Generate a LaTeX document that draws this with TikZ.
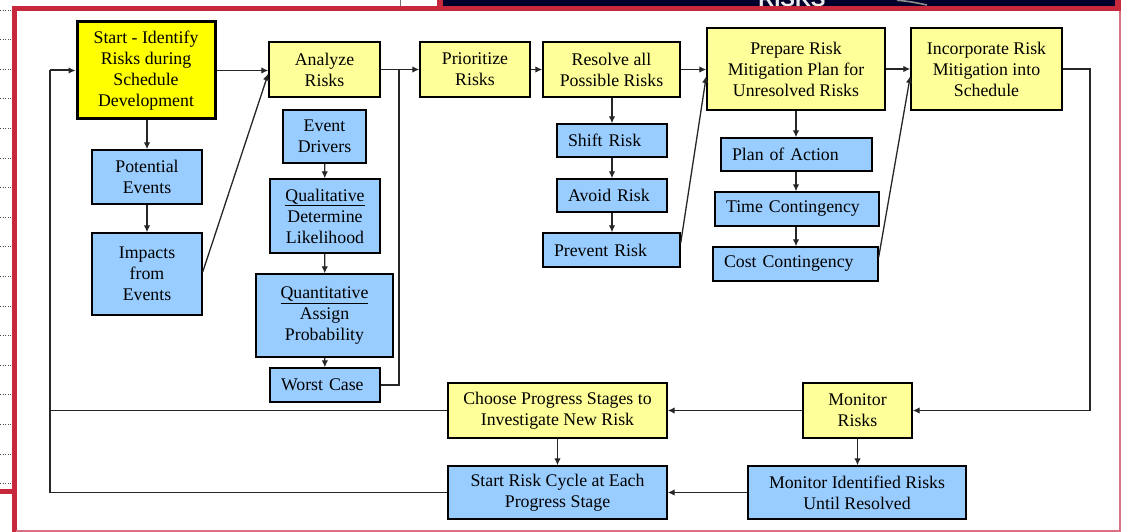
\documentclass[tikz,border=0pt]{standalone}
\usepackage{fontspec}
\setmainfont{Liberation Serif}
\newfontfamily\bannerfont{Liberation Sans}
\usetikzlibrary{arrows.meta}
\definecolor{ylw}{HTML}{FFFF99}
\definecolor{ybright}{HTML}{FFFF00}
\definecolor{blu}{HTML}{99CCFF}
\definecolor{framered}{HTML}{C8283C}
\definecolor{framepink}{HTML}{D9707F}
\definecolor{navyband}{HTML}{00002A}
\tikzset{
  bx/.style={draw=black, line width=1.4pt, align=center, inner sep=0pt, text=black,
             font=\fontsize{17.8}{21}\selectfont},
  yb/.style={bx, fill=ylw},
  bb/.style={bx, fill=blu},
  lft/.style={align=left, inner xsep=11pt, text width=#1},
  arr/.style={draw=black!85, line width=1.3pt, -{Latex[length=7pt,width=6.5pt]}},
  ln/.style={draw=black!85, line width=1.3pt},
}
\begin{document}
\begin{tikzpicture}[x=1pt,y=-1pt]
\useasboundingbox (0,0) rectangle (1121,532);
% ---------- slide frame ----------
\fill[white] (0,0) rectangle (1121,532);
\foreach \yy in {10,39.6,...,484} \draw[black!70, line width=0.9pt, dash pattern=on 1.2pt off 1.4pt] (0,\yy) -- (11,\yy);
\draw[black!55, line width=1pt] (400,0) -- (400,6);
\fill[navyband] (443,0) rectangle (1115,5.8);
\begin{scope}
  \clip (443,0) rectangle (1115,5.8);
  \node[anchor=base, inner sep=0pt, text=black!8, font=\bannerfont\bfseries\fontsize{22}{22}\selectfont] (banner) at (792,7) {RISKS};
  \draw[black!45, line width=1.6pt] (897,0.3) .. controls (910,1.5) .. (927,5);
\end{scope}
\fill[framered] (437,0) rectangle (443,6);
\fill[framered] (1115,0) rectangle (1121,11);
\fill[framered] (12,5.8) rectangle (1121,11.2);
\fill[framered] (12,5.8) rectangle (16.5,532);
\fill[framered] (0,489) rectangle (12,494);
\draw[framepink, line width=1.6pt] (1120,11) -- (1120,532);
\draw[framepink, line width=1.6pt] (16,531) -- (1121,531);

% ---------- nodes ----------
\node[bx, fill=ybright, line width=3pt, minimum width=138pt, minimum height=97pt] (start) at (146,70.5)
  {Start - Identify\\Risks during\\Schedule\\Development};
\node[yb, minimum width=111pt, minimum height=55pt] (analyze) at (324.5,69.5) {Analyze\\Risks};
\node[yb, minimum width=110pt, minimum height=55pt] (prior) at (475,69.5) {Prioritize\\Risks};
\node[yb, minimum width=137pt, minimum height=55pt] (resolve) at (611.5,69.5) {Resolve all\\Possible Risks};
\node[yb, minimum width=178pt, minimum height=82pt] (prepare) at (796,69) {Prepare Risk\\Mitigation Plan for\\Unresolved Risks};
\node[yb, minimum width=151pt, minimum height=82pt] (incorp) at (986.5,69) {Incorporate Risk\\Mitigation into\\Schedule};

\node[bb, minimum width=110pt, minimum height=54pt] (potential) at (147,177) {Potential\\Events};
\node[bb, minimum width=110pt, minimum height=82pt] (impacts) at (147,274) {Impacts\\from\\Events};

\node[bb, minimum width=83pt, minimum height=53pt] (drivers) at (324.5,136.5) {Event\\Drivers};
\node[bb, minimum width=110pt, minimum height=74pt] (qual) at (325,216) {\underline{Qualitative}\\Determine\\Likelihood};
\node[bb, minimum width=137pt, minimum height=83pt] (quant) at (324.5,315.5) {\underline{Quantitative}\\Assign\\Probability};
\node[bb, lft=88pt, minimum height=34pt] (worst) at (325,385) {Worst Case};

\node[bb, lft=88pt, minimum height=33pt] (shift) at (612,140.5) {Shift Risk};
\node[bb, lft=88pt, minimum height=33pt] (avoid) at (612,195.5) {Avoid Risk};
\node[bb, lft=115pt, minimum height=34pt] (prevent) at (611.5,250) {Prevent Risk};

\node[bb, lft=129pt, minimum height=33pt] (plan) at (796.5,154.5) {Plan of Action};
\node[bb, lft=142pt, minimum height=34pt] (time) at (797,209) {Time Contingency};
\node[bb, lft=143pt, minimum height=34pt] (cost) at (795.5,264) {Cost Contingency};

\node[yb, minimum width=219pt, minimum height=55pt] (choose) at (557.5,410.5) {Choose Progress Stages to\\Investigate New Risk};
\node[bb, minimum width=219pt, minimum height=53pt] (cycle) at (557.5,492.5) {Start Risk Cycle at Each\\Progress Stage};
\node[yb, minimum width=109pt, minimum height=55pt] (monitor) at (857.5,410.5) {Monitor\\Risks};
\node[bb, minimum width=218pt, minimum height=53pt] (monid) at (857,492.5) {Monitor Identified Risks\\Until Resolved};

% ---------- connectors ----------
\coordinate (j1) at (399,69.5);
\coordinate (r1) at (1090,69);
\coordinate (r2) at (1090,410.5);
\coordinate (l1) at (50,410.5);
\coordinate (l2) at (50,492.5);
\coordinate (l3) at (50,70.5);

\draw[arr] (start.east) -- (start.east -| analyze.west);
\draw[arr] ([yshift=2pt]impacts.east) -- ([yshift=-4pt]analyze.west);
\draw[arr] (analyze.east) -- (analyze.east -| prior.west);
\draw[ln] (worst.east) -| (j1);
\draw[arr] (prior.east) -- (prior.east -| resolve.west);
\draw[arr] (resolve.east) -- (resolve.east -| prepare.west);
\draw[arr] ([yshift=7pt]prevent.east) -- ([yshift=-7pt]prepare.west);
\draw[arr] (prepare.east) -- (prepare.east -| incorp.west);
\draw[arr] ([yshift=7pt]cost.east) -- ([yshift=-7pt]incorp.west);
\draw[arr] (incorp.east) -- (r1) -- (r2) -- (monitor.east);

\draw[arr] (start.south -| potential.north) -- (potential.north);
\draw[arr] (potential) -- (impacts);
\draw[arr] (drivers) -- (qual);
\draw[arr] (qual) -- (quant);
\draw[arr] (quant) -- (worst);
\draw[arr] (resolve.south -| shift.north) -- (shift.north);
\draw[arr] (shift) -- (avoid);
\draw[arr] (avoid.south) -- (avoid.south |- prevent.north);
\draw[arr] (prepare.south) -- (prepare.south |- plan.north);
\draw[arr] (plan.south -| prepare.south) -- (prepare.south |- time.north);
\draw[arr] (time.south -| prepare.south) -- (prepare.south |- cost.north);

\draw[arr] (monitor.west) -- (choose.east);
\draw[arr] (monitor.south) -- (monitor.south |- monid.north);
\draw[arr] (monid.west) -- (cycle.east);
\draw[arr] (choose) -- (cycle);
\draw[ln] (choose.west) -- (l1);
\draw[ln] (cycle.west) -- (l2) -- (l3);
\draw[arr, line width=2pt] (l3) -- (start.west);
\end{tikzpicture}
\end{document}
